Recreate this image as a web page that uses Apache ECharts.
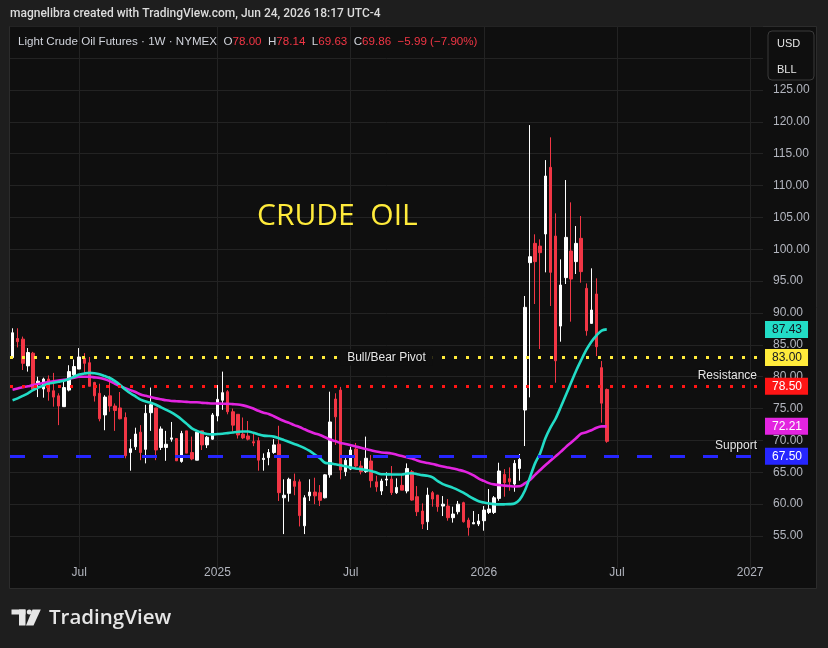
<!DOCTYPE html>
<html><head><meta charset="utf-8">
<script src="https://cdn.jsdelivr.net/npm/echarts/dist/echarts.min.js"></script>
<style>html,body{margin:0;padding:0;background:#1e1e1e;}#c{width:828px;height:648px;}</style>
</head><body><div id="c"></div>
<script>
// ---- data (weekly bars from 2024-04-01) ----
const opens = [83.0,86.0,85.9,81.7,83.7,78.9,78.07,79.64,77.8,77.0, 75.3,77.9,80.3,81.2,82.9,82.2,79.1,77.4,74.0,77.0, 75.4,75.1,73.6,68.1,69.0,71.3,68.6,74.35,75.1,68.9, 68.9,70.2,70.3,66.7,71.5,68.1,66.9,71.5,69.3,70.2, 73.85,76.3,77.65,74.5,74.1,71.0,70.7,69.8,69.96,67.0, 67.3,68.1,69.4,61.0,61.7,63.6,63.5,56.6,61.3,61.9, 61.8,61.0,64.6,76.5,77.9,65.1,65.5,68.65,65.98,65.1, 66.77,63.5,62.06,63.78,63.94,61.8,62.95,62.06,65.09,61.17, 58.92,57.24,61.8,61.43,59.7,59.7,57.87,58.81,60.23,57.5, 56.9,56.88,57.4,58.7,58.7,60.9,64.67,64.0,63.15,65.6, 74.77,97.9,100.93,100.5,102.4,112.86,102.08,87.95,95.55,99.73, 98.06,101.72,93.87,88.37,92.98,81.42,78.00];
const closes = [86.9,85.5,82.1,83.8,78.0,79.3,79.64,77.65,76.8,75.4, 78.3,80.8,81.6,83.1,82.1,78.5,77.0,73.4,76.8,75.4, 74.7,73.4,67.6,68.7,71.0,68.1,74.25,75.6,68.5,71.8, 69.4,70.4,66.8,71.1,68.0,67.1,71.3,69.3,70.5,74.0, 76.45,77.5,74.5,72.4,70.85,70.4,70.2,69.6,66.9,67.2, 68.1,69.3,61.8,61.4,63.9,62.8,58.2,61.0,61.9,61.3, 60.6,64.6,72.9,73.7,65.35,66.9,68.5,65.98,65.1,67.2, 63.68,62.7,63.63,63.94,61.8,62.63,62.2,65.6,60.64,58.81, 56.88,61.43,60.8,59.6,60.0,57.87,58.45,60.0,57.24,56.35, 57.1,57.35,59.07,59.23,61.0,65.2,63.37,63.5,66.4,67.03, 90.89,98.84,98.06,99.47,111.5,96.38,82.5,94.39,101.87,95.33, 100.93,96.49,87.22,90.47,84.71,75.85,69.86];
const lows = [82.8,84.6,81.05,80.8,77.9,76.8,76.71,76.24,75.3,72.4, 75.3,77.7,80.0,81.2,80.5,78.5,76.1,73.0,71.6,74.5, 71.5,73.3,67.2,65.25,68.5,66.9,66.4,71.5,66.9,68.5, 66.8,69.8,66.8,66.5,68.0,66.9,66.9,68.5,68.8,70.1, 73.0,74.8,74.1,71.4,70.3,70.2,70.0,69.1,65.25,65.25, 66.1,67.9,60.5,55.3,60.4,61.4,56.5,55.3,60.5,60.0, 59.7,60.9,64.15,69.3,63.9,64.4,65.35,65.46,64.67,64.9, 62.6,61.95,61.43,62.84,61.43,61.6,62.2,61.7,60.54,58.13, 56.09,55.94,59.6,58.81,58.13,57.4,57.1,58.4,57.1,55.05, 56.9,56.56,55.83,58.45,58.45,60.54,61.17,62.1,61.95,63.68, 69.12,76.76,91.41,84.35,96.38,91.1,79.06,85.5,94.55,88.64, 96.12,94.76,86.44,88.37,83.25,72.79,69.63];
const highs = [87.6,87.6,86.3,84.5,83.9,80.0,79.85,80.2,80.6,77.4, 79.2,81.8,82.7,84.5,83.7,83.1,79.2,78.9,77.1,80.1, 75.8,77.6,74.4,70.2,72.0,72.4,75.6,78.3,75.1,72.2, 71.5,72.9,70.3,71.5,71.5,70.6,71.5,71.5,70.7,74.3, 78.7,80.8,77.9,75.0,74.1,73.6,73.05,71.0,70.5,67.97, 68.65,70.2,72.3,63.9,64.15,64.8,63.9,61.4,63.9,64.15, 63.0,64.7,77.65,77.4,78.4,67.3,69.0,69.6,66.8,70.6, 67.7,64.46,63.99,64.99,65.98,64.05,64.7,66.4,65.35,62.84, 60.12,62.58,62.06,61.43,61.27,60.8,59.6,60.5,60.38,57.87, 58.92,58.45,59.7,62.37,61.27,66.5,65.5,65.77,66.92,67.87, 92.67,119.5,102.35,101.56,114.0,117.57,105.64,98.42,110.87,107.37, 103.65,105.22,94.65,97.01,95.44,82.46,78.14];
const maFast = [76.3,76.6,77.0,77.4,77.9,78.3,78.6,78.9,79.05,79.2, 79.35,79.65,80.0,80.35,80.5,80.6,80.55,80.4,80.1,79.8, 79.3,78.7,78.0,77.4,76.9,76.4,76.1,75.9,75.6,75.2, 74.8,74.4,73.9,73.3,72.6,71.9,71.5,71.2,71.0,70.95, 71.0,71.05,71.15,71.25,71.35,71.4,71.4,71.2,70.95,70.75, 70.7,70.6,70.35,70.05,69.75,69.45,69.15,68.8,68.35,67.8, 67.2,66.5,66.4,66.25,66.1,65.95,65.75,65.6,65.5,65.35, 65.2,64.95,64.7,64.68,64.66,64.65,64.65,64.8,64.85,64.7, 64.55,64.45,64.2,63.6,63.15,62.85,62.55,62.2,61.8,61.3, 60.85,60.45,60.25,60.1,60.0,59.96,59.97,60.0,60.1,60.7, 62.1,64.2,66.4,68.0,70.3,72.0,73.4,75.2,77.1,79.0, 80.9,82.6,84.2,85.5,86.5,87.25,87.43];
const maSlow = [77.95,78.15,78.35,78.5,78.7,78.85,79.0,79.15,79.3,79.4, 79.5,79.65,79.85,80.0,80.0,80.0,79.9,79.8,79.6,79.3, 78.9,78.5,78.2,77.9,77.6,77.2,77.0,76.8,76.6,76.45, 76.3,76.2,76.15,76.1,76.05,76.0,76.0,75.9,75.85,75.8, 75.8,75.75,75.75,75.7,75.65,75.5,75.3,75.0,74.65,74.35, 74.15,73.8,73.4,73.05,72.75,72.4,72.1,71.75,71.4,71.1, 70.85,70.5,70.15,69.9,69.6,69.45,69.25,69.05,68.85,68.65, 68.45,68.25,68.1,68.05,67.95,67.75,67.55,67.35,67.15,66.85, 66.6,66.45,66.3,66.1,65.9,65.75,65.6,65.4,65.2,64.9, 64.5,64.0,63.65,63.3,63.1,63.0,62.9,62.85,62.78,62.8, 63.25,63.8,64.6,65.35,66.1,66.8,67.5,68.2,68.95,69.65, 70.35,71.05,71.3,71.6,72.0,72.2,72.21];
const pivotLevel = 83.00;
const resistanceLevel = 78.50;
const supportLevel = 67.50;
const xTickLabels = {'2024-07-01':'Jul','2025-01-06':'2025','2025-07-07':'Jul','2026-01-05':'2026','2026-07-06':'Jul','2027-01-04':'2027'};
const weekCount = 147; // visible weekly slots incl. empty future space

// ---- build ----
const dates = [];
const t0 = Date.UTC(2024, 3, 1);
for (let i = 0; i < weekCount; i++) dates.push(new Date(t0 + i * 7 * 86400000).toISOString().slice(0, 10));
const candles = opens.map((o, i) => [o, closes[i], lows[i], highs[i]]);
const n = opens.length - 1;
const chg = closes[n] - closes[n - 1];
const pct = chg / closes[n - 1] * 100;
const fmt = v => v.toFixed(2);
const neg = v => (v < 0 ? '\u2212' : '+') + Math.abs(v).toFixed(2);

const FONT = 'Liberation Sans, Arial, sans-serif';
const BG = '#0f0f0f';
const GRIDC = '#232323';
const TEAL = '#22dcc6', MAG = '#e324e0', YEL = '#ffeb3b', RED = '#ff1515', BLUE = '#2626ff', CRED = '#f23645';
const HIDDEN = { color: 'rgba(0,0,0,0)', width: 0 };

function boxLabel(bg, fg) {
  return { show: true, position: 'end', distance: 2, formatter: p => fmt(p.value),
    backgroundColor: bg, color: fg, padding: [3, 6, 2, 7], lineHeight: 12,
    fontSize: 12, fontFamily: FONT };
}
function tagLabel(text, pos) {
  return { show: true, position: pos, distance: [6, 5], formatter: text, color: '#e6e6e6',
    fontSize: 12, fontFamily: FONT, textShadowColor: '#000', textShadowBlur: 2 };
}

const chart = echarts.init(document.getElementById('c'));
chart.setOption({
  animation: false,
  backgroundColor: '#1e1e1e',
  grid: { left: 10, right: 65, top: 26.29, bottom: 80.14 },
  xAxis: {
    type: 'category', data: dates, boundaryGap: true,
    axisLine: { show: false }, axisTick: { show: false }, splitLine: { show: false },
    axisLabel: { interval: (i, v) => !!xTickLabels[v], formatter: v => xTickLabels[v] || '',
      color: '#b2b5be', fontSize: 12, fontFamily: FONT, margin: -1 }
  },
  yAxis: {
    type: 'value', position: 'right', min: 50, max: 135, interval: 5, scale: false,
    axisLine: { show: false }, axisTick: { show: false },
    axisLabel: { color: '#b2b5be', fontSize: 12, fontFamily: FONT, margin: 10, align: 'left',
      formatter: v => (v < 55 || v > 125) ? '' : v.toFixed(2) },
    splitLine: { show: true, showMinLine: false, lineStyle: { color: GRIDC, width: 1 } }
  },
  graphic: [
    { type: 'rect', z: -100, shape: { x: 9.5, y: 26.5, width: 807, height: 562 },
      style: { fill: BG, stroke: '#2c2c2c', lineWidth: 1 } },
    { type: 'text', x: 10, y: 14, z: 10, style: { text: 'magnelibra created with TradingView.com, Jun 24, 2026 18:17 UTC-4',
      fill: '#dcdcdc', font: '500 12px Roboto', textVerticalAlign: 'middle' } },
    { type: 'text', x: 18, y: 42, z: 10, style: {
      text: '{w|Light Crude Oil Futures \u00b7 1W \u00b7 NYMEX}  {w|O}{r|' + fmt(opens[n]) + '}  {w|H}{r|' + fmt(highs[n]) + '}  {w|L}{r|' + fmt(lows[n]) + '}  {w|C}{r|' + fmt(closes[n]) + '}  {r|' + neg(chg) + ' (' + neg(pct) + '%)}',
      rich: { w: { fill: '#d1d4dc', font: '11.6px ' + FONT }, r: { fill: CRED, font: '11.6px ' + FONT } },
      fill: '#d1d4dc', font: '11.6px ' + FONT, textVerticalAlign: 'middle' } },
    { type: 'rect', z: 10, shape: { x: 768, y: 31, width: 46, height: 49, r: 4 },
      style: { fill: BG, stroke: '#3a3a3a', lineWidth: 1 } },
    { type: 'text', x: 777, y: 44, z: 11, style: { text: 'USD', fill: '#e6e6e6', font: '11px ' + FONT, textVerticalAlign: 'middle' } },
    { type: 'text', x: 777, y: 70, z: 11, style: { text: 'BLL', fill: '#e6e6e6', font: '11px ' + FONT, textVerticalAlign: 'middle' } },
    { type: 'text', x: 257, y: 216, z: 10, style: { text: 'CRUDE  OIL', fill: YEL, font: '30px Open Sans', textVerticalAlign: 'middle' } },
    { type: 'rect', z: 10, shape: { x: 11.5, y: 609.5, width: 14, height: 5 }, style: { fill: '#e6e6e6' } },
    { type: 'rect', z: 10, shape: { x: 19, y: 609.5, width: 6.5, height: 16 }, style: { fill: '#e6e6e6' } },
    { type: 'circle', z: 10, shape: { cx: 29.3, cy: 612, r: 2.5 }, style: { fill: '#e6e6e6' } },
    { type: 'polygon', z: 10, shape: { points: [[32.5, 609.5], [40.8, 609.5], [33.5, 625.5], [26, 625.5]] }, style: { fill: '#e6e6e6' } },
    { type: 'text', x: 49, y: 618, z: 10, style: { text: 'TradingView', fill: '#e6e6e6', font: '600 20.5px Open Sans', textVerticalAlign: 'middle' } }
  ],
  series: [
    { type: 'line', data: [], z: 1, silent: true,
      markLine: { z: 1, silent: true, symbol: ['none', 'none'], label: { show: false },
        lineStyle: { color: GRIDC, width: 1, type: 'solid' },
        data: Object.keys(xTickLabels).map(d => ({ xAxis: d })) } },
    { type: 'candlestick', data: candles, z: 3, barWidth: 3, clip: false,
      itemStyle: { color: '#ffffff', color0: CRED, borderColor: '#ffffff', borderColor0: CRED, borderWidth: 1 },
      markLine: { silent: true, symbol: ['none', 'none'],
        data: [
          { yAxis: pivotLevel, lineStyle: { color: YEL, width: 3, type: [3, 9], cap: 'butt' },
            label: Object.assign(tagLabel('Bull/Bear Pivot', 'insideMiddle'), { backgroundColor: BG, padding: [2, 7] }) },
          { yAxis: resistanceLevel, lineStyle: { color: RED, width: 3, type: [3, 9], cap: 'butt' },
            label: tagLabel('Resistance', 'insideEndTop') },
          { yAxis: supportLevel, lineStyle: { color: BLUE, width: 3, type: [15, 18], cap: 'butt' },
            label: tagLabel('Support', 'insideEndTop') },
          { yAxis: pivotLevel, lineStyle: HIDDEN, label: boxLabel(YEL, '#131722') },
          { yAxis: resistanceLevel, lineStyle: HIDDEN, label: boxLabel(RED, '#ffffff') },
          { yAxis: supportLevel, lineStyle: HIDDEN, label: boxLabel(BLUE, '#ffffff') }
        ] } },
    { type: 'line', data: maSlow, z: 4, symbol: 'none', smooth: 0.3, silent: true, clip: false,
      lineStyle: { color: MAG, width: 2.6 },
      markLine: { silent: true, symbol: ['none', 'none'],
        data: [{ yAxis: maSlow[maSlow.length - 1], lineStyle: HIDDEN, label: boxLabel(MAG, '#ffffff') }] } },
    { type: 'line', data: maFast, z: 4, symbol: 'none', smooth: 0.3, silent: true, clip: false,
      lineStyle: { color: TEAL, width: 2.6 },
      markLine: { silent: true, symbol: ['none', 'none'],
        data: [{ yAxis: maFast[maFast.length - 1], lineStyle: HIDDEN, label: boxLabel(TEAL, '#131722') }] } }
  ]
});
</script></body></html>
